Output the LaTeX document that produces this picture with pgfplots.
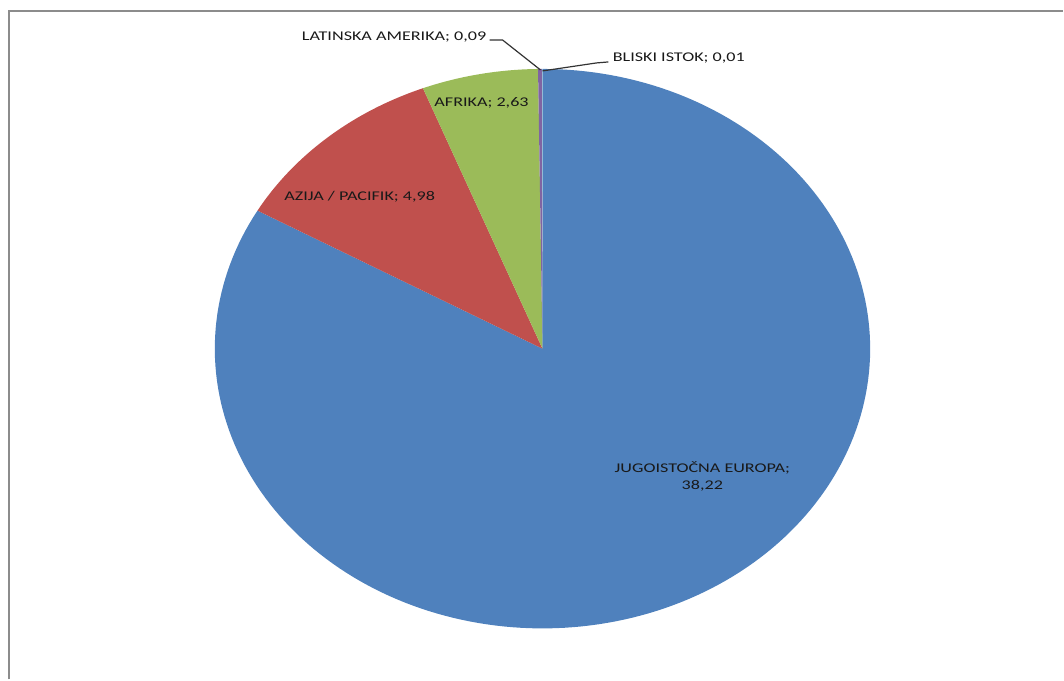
\documentclass[border=0pt]{standalone}
\usepackage{pgfplots}
\pgfplotsset{compat=1.18}
\usepackage{fontspec}
\setmainfont{Carlito}

\definecolor{pieblue}{HTML}{4F81BD}
\definecolor{piered}{HTML}{C0504D}
\definecolor{piegreen}{HTML}{9BBB59}
\definecolor{piepurple}{HTML}{8064A2}
\definecolor{piecyan}{HTML}{4BACC6}
\definecolor{framegray}{HTML}{8C8C8C}

% slice values: Jugoistocna Europa, Azija/Pacifik, Afrika, Latinska Amerika, Bliski istok
\def\vA{38.22}
\def\vB{4.98}
\def\vC{2.63}
\def\vD{0.09}
\def\vE{0.01}
\pgfmathsetmacro{\tot}{\vA+\vB+\vC+\vD+\vE}
% start at 12 o'clock, clockwise
\pgfmathsetmacro{\bA}{90-\vA/\tot*360}
\pgfmathsetmacro{\bB}{\bA-\vB/\tot*360}
\pgfmathsetmacro{\bC}{\bB-\vC/\tot*360}
\pgfmathsetmacro{\bD}{\bC-\vD/\tot*360}
\pgfmathsetmacro{\bE}{\bD-\vE/\tot*360}

\begin{document}
\begin{tikzpicture}
\begin{axis}[
  hide axis, scale only axis,
  width=798pt, height=510pt,
  xmin=0, xmax=1064, ymin=0, ymax=680,
  y dir=reverse, clip=false,
  variable=\t, samples=200,
]
\path (rel axis cs:0,0) rectangle (rel axis cs:1,1);
\addplot[fill=pieblue, draw=none, domain=\bA:90]
  ({543+328*cos(\t)},{349-280*sin(\t)}) -- (axis cs:543,349) -- cycle;
\addplot[fill=piered, draw=none, domain=\bB:\bA, samples=60]
  ({543+328*cos(\t)},{349-280*sin(\t)}) -- (axis cs:543,349) -- cycle;
\addplot[fill=piegreen, draw=none, domain=\bC:\bB, samples=40]
  ({543+328*cos(\t)},{349-280*sin(\t)}) -- (axis cs:543,349) -- cycle;
\addplot[fill=piepurple, draw=none, domain=\bD:\bC, samples=3]
  ({543+328*cos(\t)},{349-280*sin(\t)}) -- (axis cs:543,349) -- cycle;
\addplot[fill=piecyan, draw=none, domain=\bE:\bD, samples=3]
  ({543+328*cos(\t)},{349-280*sin(\t)}) -- (axis cs:543,349) -- cycle;

% frame (top and left edges visible)
\draw[framegray, line width=1.5pt] (axis cs:9,680) -- (axis cs:9,11) -- (axis cs:1064,11);

% leader lines
\draw[black!80, line width=0.9pt] (axis cs:490,40) -- (axis cs:503,40) -- (axis cs:541,70);
\draw[black!80, line width=0.9pt] (axis cs:543,71) -- (axis cs:597,63) -- (axis cs:609,62);

% labels (the source image is stretched horizontally)
\begin{scope}[every node/.style={font=\fontsize{10}{13}\selectfont, text=black!90, inner sep=0pt, xscale=1.36}]
\node[anchor=east] at (axis cs:487,37) {LATINSKA AMERIKA; 0,09};
\node[anchor=west] at (axis cs:613,58) {BLISKI ISTOK; 0,01};
\node at (axis cs:482,103) {AFRIKA; 2,63};
\node at (axis cs:360,197) {AZIJA / PACIFIK; 4,98};
\node[align=center] at (axis cs:703,477) {JUGOISTOČNA EUROPA;\\38,22};
\end{scope}
\end{axis}
\end{tikzpicture}
\end{document}
